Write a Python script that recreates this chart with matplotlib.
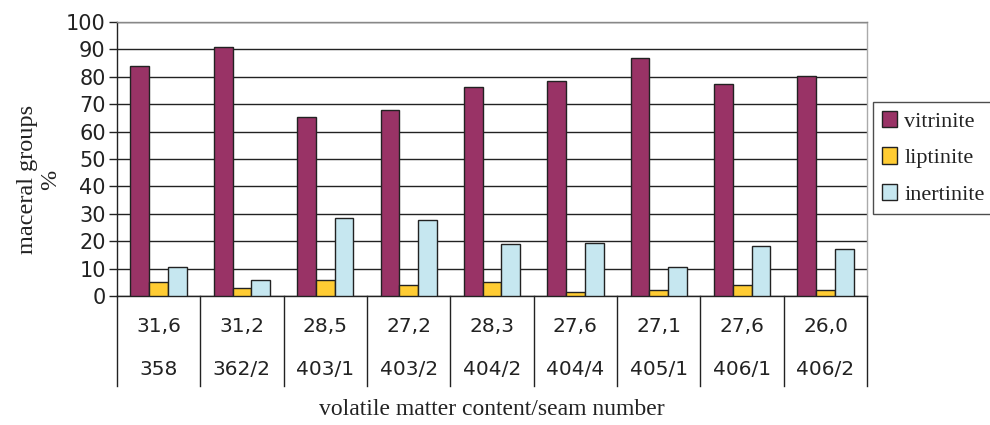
import numpy as np
import matplotlib
matplotlib.use("Agg")
import matplotlib.pyplot as plt
import matplotlib.transforms as mtransforms

# --------------------- data ---------------------
volatile = ["31,6", "31,2", "28,5", "27,2", "28,3", "27,6", "27,1", "27,6", "26,0"]
seams = ["358", "362/2", "403/1", "403/2", "404/2", "404/4", "405/1", "406/1", "406/2"]
vitrinite = [84.0, 91.0, 65.4, 67.9, 76.2, 78.6, 87.0, 77.4, 80.3]
liptinite = [5.2, 2.8, 5.7, 4.0, 5.2, 1.6, 2.3, 4.0, 2.3]
inertinite = [10.7, 5.8, 28.5, 27.8, 18.9, 19.5, 10.7, 18.4, 17.3]
series_names = ["vitrinite", "liptinite", "inertinite"]
colors = ["#993366", "#FFCC33", "#C6E7F0"]

SANS = ["DejaVu Sans"]
SERIF = ["Liberation Serif", "DejaVu Serif"]
TXT = "#222222"

fig = plt.figure(figsize=(9.9, 4.25), dpi=100)
ax = fig.add_axes([0.118, 0.3035, 0.758, 0.6447])

x = np.arange(len(seams))
w = 0.225
for i, (vals, name, c) in enumerate(zip([vitrinite, liptinite, inertinite], series_names, colors)):
    ax.bar(x + (i - 1) * w, vals, width=w, color=c, edgecolor="#222222",
           linewidth=1.0, label=name, zorder=3)

ax.set_xlim(-0.5, len(seams) - 0.5)
ax.set_ylim(0, 100)
ax.set_yticks(range(0, 101, 10))
ax.yaxis.grid(True, color="#222222", linewidth=1.0, zorder=0)
ax.set_xticks([])
ax.tick_params(axis="y", direction="out", length=6, width=1, color="#222222",
               labelsize=15, labelcolor=TXT, pad=2)
for lab in ax.get_yticklabels():
    lab.set_family(SANS)

ax.spines["left"].set_color("#222222")
ax.spines["bottom"].set_color("#222222")
ax.spines["top"].set_color("#888888")
ax.spines["right"].set_color("#aaaaaa")
for s in ax.spines.values():
    s.set_linewidth(1.0)

ax.set_ylabel("maceral groups\n%", family=SERIF, fontsize=17.5, color=TXT, linespacing=1.15)
ax.yaxis.set_label_coords(-0.074, 0.425)

# table below the axis
trans = mtransforms.blended_transform_factory(ax.transData, ax.transAxes)
for b in np.arange(-0.5, len(seams), 1.0):
    ax.plot([b, b], [0, -0.328], transform=trans, color="#222222", linewidth=1.0,
            clip_on=False)
for xi, v, s in zip(x, volatile, seams):
    ax.text(xi, -0.113, v, transform=trans, ha="center", va="center",
            family=SANS, fontsize=14.5, color=TXT)
    ax.text(xi, -0.27, s, transform=trans, ha="center", va="center",
            family=SANS, fontsize=14.5, color=TXT)

ax.text(0.5, -0.415, "volatile matter content/seam number", transform=ax.transAxes,
        ha="center", va="center", family=SERIF, fontsize=17, color=TXT)

leg = ax.legend(loc="upper left", bbox_to_anchor=(873 / 990, 1 - 102 / 425),
                bbox_transform=fig.transFigure, frameon=True, fancybox=False,
                prop={"family": SERIF, "size": 16}, handlelength=0.7,
                handleheight=0.75, handletextpad=0.3, labelspacing=0.7,
                borderpad=0.4, borderaxespad=0)
leg.get_frame().set_edgecolor("#222222")
leg.get_frame().set_linewidth(1.0)
for t in leg.get_texts():
    t.set_color(TXT)

fig.savefig("out.png", dpi=100)
